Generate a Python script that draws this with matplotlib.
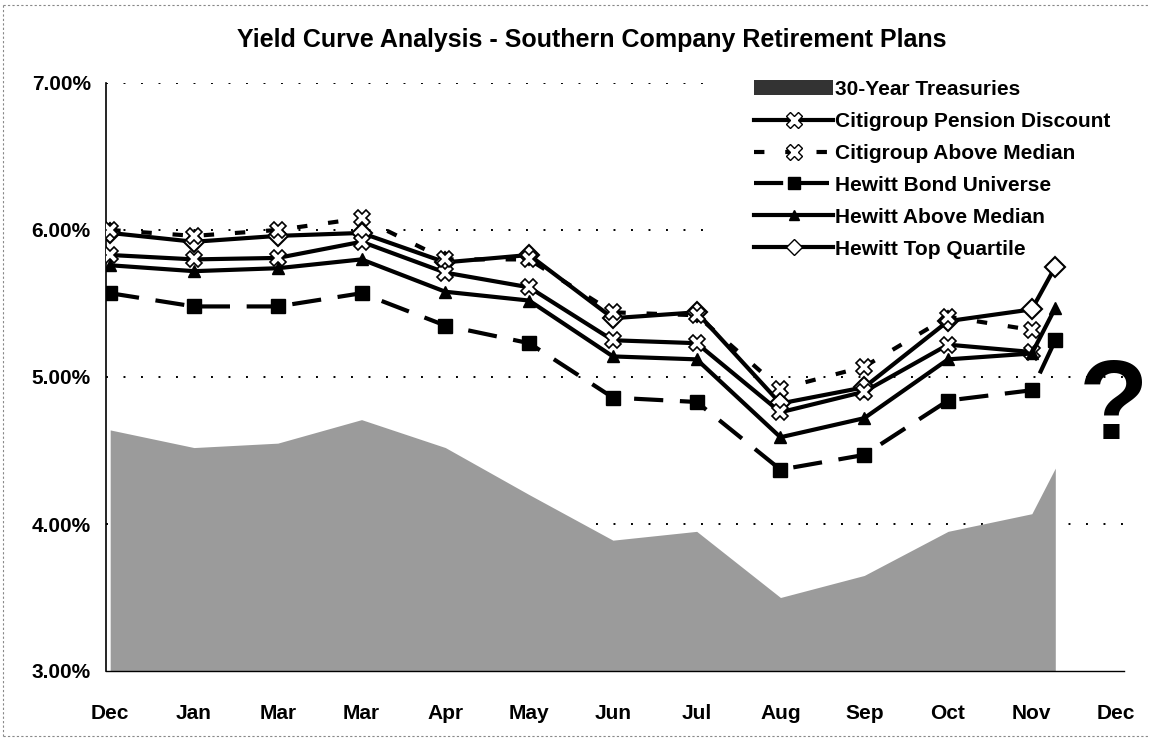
import matplotlib
matplotlib.use("Agg")
import matplotlib.pyplot as plt
from matplotlib.patches import Patch
from matplotlib.lines import Line2D

plt.rcParams['font.family'] = ['Liberation Sans', 'DejaVu Sans']
plt.rcParams['font.weight'] = 'bold'

# data
month_labels = ['Dec', 'Jan', 'Mar', 'Mar', 'Apr', 'May', 'Jun', 'Jul', 'Aug', 'Sep', 'Oct', 'Nov', 'Dec']
# month offsets of the observations (last one is a partial month)
period = [0, 1, 2, 3, 4, 5, 6, 7, 8, 9, 10, 11, 11.28]

treasuries = [4.64, 4.52, 4.55, 4.71, 4.52, 4.20, 3.89, 3.95, 3.50, 3.65, 3.95, 4.07, 4.38]
citi_pension = [5.83, 5.80, 5.81, 5.92, 5.71, 5.61, 5.25, 5.23, 4.76, 4.90, 5.22, 5.17]
citi_above = [6.00, 5.96, 6.00, 6.08, 5.80, 5.80, 5.44, 5.42, 4.92, 5.07, 5.41, 5.32]
hewitt_bond = [5.57, 5.48, 5.48, 5.57, 5.35, 5.23, 4.86, 4.83, 4.37, 4.47, 4.84, 4.91, 5.25]
hewitt_above = [5.76, 5.72, 5.74, 5.80, 5.58, 5.52, 5.14, 5.12, 4.59, 4.72, 5.12, 5.16, 5.47]
hewitt_top = [5.98, 5.92, 5.96, 5.98, 5.78, 5.83, 5.40, 5.44, 4.82, 4.93, 5.38, 5.46, 5.75]

W, H = 1149, 742
fig = plt.figure(figsize=(W / 100, H / 100), dpi=100)
ax = fig.add_axes([106 / W, (H - 671) / H, 1018 / W, (671 - 83) / H])

gray = '#9b9b9b'
ax.fill_between(period, 3, treasuries, color=gray, lw=0, zorder=1)

lw = 3
ax.plot(period[:12], citi_pension, color='black', lw=lw, marker='X', ms=12,
        mfc='white', mec='black', mew=1.2, zorder=7)
ax.plot(period[:12], citi_above, color='black', lw=lw, ls=(0, (2.5, 5)), marker='X', ms=12,
        mfc='white', mec='black', mew=1.2, zorder=7)
ax.plot(period, hewitt_bond, color='black', lw=lw, ls=(0, (7, 4)), marker='s', ms=10,
        mfc='black', mec='black', zorder=7)
ax.plot(period, hewitt_above, color='black', lw=lw, marker='^', ms=9,
        mfc='black', mec='black', zorder=7)
ax.plot(period, hewitt_top, color='black', lw=lw, marker='D', ms=10,
        mfc='white', mec='black', mew=1.5, zorder=6)

ax.set_xlim(-0.05, 12.1)
ax.set_ylim(3, 7)
ax.set_yticks([3, 4, 5, 6, 7])
ax.set_yticklabels(['3.00%', '4.00%', '5.00%', '6.00%', '7.00%'])
ax.set_xticks(range(13))
ax.set_xticklabels(month_labels)
ax.tick_params(axis='y', length=0, pad=11, labelsize=15)
ax.tick_params(axis='x', length=0, pad=24, labelsize=15)
ax.grid(axis='y', color='black', lw=1.4, ls=(0, (1, 8)), zorder=0)
ax.yaxis.get_gridlines()[0].set_visible(False)
ax.set_axisbelow(True)
for s in ['top', 'right']:
    ax.spines[s].set_visible(False)
ax.spines['left'].set_linewidth(1.2)
ax.spines['bottom'].set_linewidth(1.0)

handles = [
    Patch(facecolor='#333333', edgecolor='none'),
    Line2D([], [], color='black', lw=lw, marker='X', ms=12, mfc='white', mec='black'),
    Line2D([], [], color='black', lw=lw, ls=(0, (2.5, 5)), marker='X', ms=12, mfc='white', mec='black'),
    Line2D([], [], color='black', lw=lw, ls=(0, (7, 4)), marker='s', ms=8, mfc='black'),
    Line2D([], [], color='black', lw=lw, marker='^', ms=7, mfc='black'),
    Line2D([], [], color='black', lw=lw, marker='D', ms=8, mfc='white', mec='black'),
]
labels = ['30-Year Treasuries', 'Citigroup Pension Discount', 'Citigroup Above Median',
          'Hewitt Bond Universe', 'Hewitt Above Median', 'Hewitt Top Quartile']
leg = ax.legend(handles, labels, loc='upper left', bbox_to_anchor=(704 / W, 1 - 30 / H),
                bbox_transform=fig.transFigure, frameon=True, facecolor='white',
                edgecolor='none', framealpha=1, fontsize=15, handlelength=3.8,
                handletextpad=0.1, labelspacing=0.62, borderpad=2.4, borderaxespad=0)
leg.set_zorder(5)

fig.text(592 / W, 1 - 40 / H, 'Yield Curve Analysis - Southern Company Retirement Plans',
         ha='center', va='center', fontsize=18, fontweight='bold')
fig.text(1113 / W, 1 - 410 / H, '?', ha='center', va='center', fontsize=82, fontweight='bold')

# faint scan border
for xs, ys in [([3, W], [5, 5]), ([3, 3], [5, 736]), ([3, W], [736, 736])]:
    fig.add_artist(Line2D([x / W for x in xs], [1 - y / H for y in ys], color='#888888',
                          lw=0.8, ls=(0, (2, 2))))

fig.savefig('out.png', dpi=100)
